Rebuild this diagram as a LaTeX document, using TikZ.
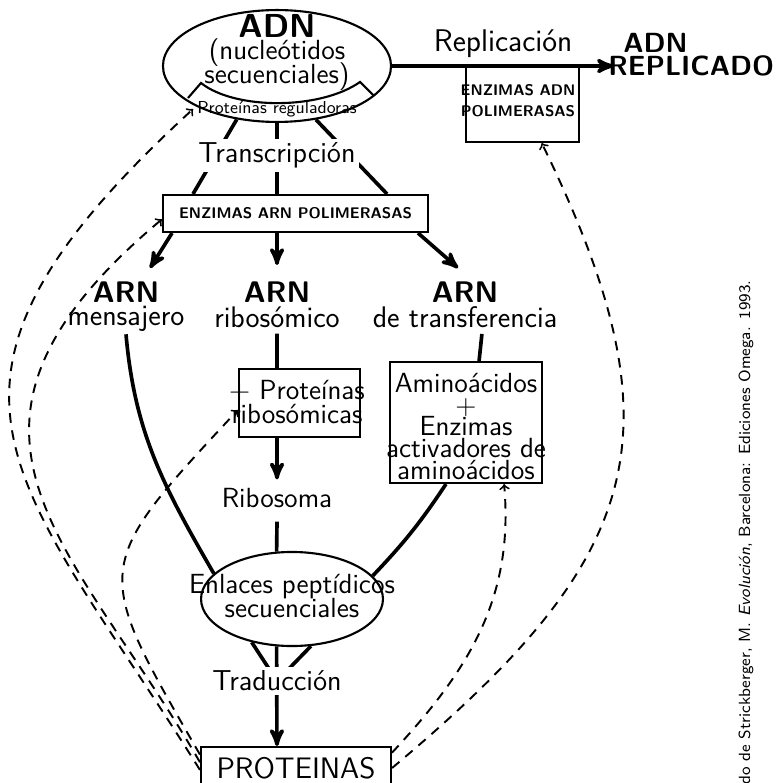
\documentclass[tikz,border=0pt]{standalone}
\usepackage{tikz}
\usetikzlibrary{positioning}
\usetikzlibrary{shapes,arrows}
\renewcommand{\familydefault}{\sfdefault}
\tikzstyle{block} = [rectangle, draw, line width=1.1pt, inner sep=0pt]
\tikzstyle{oval} = [ellipse, draw, line width=1.1pt, inner sep=0pt]
\tikzstyle{line} = [draw, line width=1.9pt]
\tikzstyle{arrow} = [draw, line width=1.9pt, -stealth']
\tikzstyle{feedback} = [draw, line width=1pt, dash pattern=on 5pt off 4pt, ->]
\tikzstyle{lbl} = [font=\Large, inner sep=1pt]
\tikzstyle{big} = [font=\fontsize{15.5}{18}\selectfont, inner sep=1pt]
\tikzstyle{bigb} = [font=\fontsize{15.5}{18}\selectfont\bfseries, inner sep=1pt]
\tikzstyle{tag} = [font=\fontsize{15}{18}\selectfont, fill=white, inner sep=2pt]
\tikzstyle{caps} = [font=\footnotesize\bfseries, inner sep=0pt, align=center]

\begin{document}
\begin{tikzpicture}[x=0.52pt, y=-0.52pt]
                \useasboundingbox (0,0) rectangle (782,783);
                \node[oval, minimum width=118.6pt, minimum height=58.2pt] (adn) at (277,66) {};
                \node[lbl, font=\LARGE\bfseries, anchor=base] (adn1) at (277,38) {ADN};
                \node[lbl, below=-2pt of adn1] (adn2) {(nucleótidos};
                \node[lbl, below=-4.5pt of adn2] (adn3) {secuenciales)};
                \draw[line width=1.1pt] (188,98) -- (201,83) .. controls (235,110) and (320,110) .. (360,82) -- (374,96);
                \node[font=\small, inner sep=2pt] (reg) at (277,109) {Proteínas reguladoras};
                \node[block, minimum width=58.8pt, minimum height=39pt] (adnpol) at (522.5,104.5) {};
                \node[caps] (adnpoltxt) at (518,100.7) {ENZIMAS ADN\\[1.9pt]POLIMERASAS};
                \node[big, font=\Large\bfseries, anchor=west, inner sep=0pt] (repl) at (608,66) {REPLICADO};
                \node[big, font=\Large\bfseries, anchor=base west, inner sep=0pt] (adnr) at (623,53) {ADN};
                \node[big, font=\fontsize{16.3}{19}\selectfont, anchor=base] (rep) at (503,52) {Replicación};
                \path[arrow, shorten >=-3pt] (adn.east) -- (repl.west);
                \node[block, minimum width=137.8pt, minimum height=19.2pt, font=\footnotesize\bfseries] (arnpol) at (295.5,213.5) {ENZIMAS ARN POLIMERASAS};
                \path[line] (adn.233) -- ([xshift=-53.3pt]arnpol.north);
                \path[line] (adn.south) -- ([xshift=-9.6pt]arnpol.north);
                \path[line] (adn.-54) -- ([xshift=47.6pt]arnpol.north);
                \node[tag] (trans) at (277,155.5) {Transcripción};
                \node[bigb, anchor=base] (arnm1) at (126,302) {ARN};
                \node[big, below=0pt of arnm1] (arnm) {mensajero};
                \node[bigb, anchor=base] (arnr1) at (277,302) {ARN};
                \node[big, below=0pt of arnr1] (arnr) {ribosómico};
                \node[bigb, anchor=base] (arnt1) at (465,302) {ARN};
                \node[big, below=0pt of arnt1] (arnt) {de transferencia};
                \path[arrow] ([xshift=-64.2pt]arnpol.south) -- ([xshift=12.5pt, yshift=5.7pt]arnm1.north);
                \path[arrow] ([xshift=-9.6pt]arnpol.south) -- ([yshift=7.3pt]arnr1.north);
                \path[arrow] ([xshift=63.7pt]arnpol.south) -- ([xshift=-3.6pt, yshift=5.7pt]arnt1.north);
                \node[block, minimum width=62.9pt, minimum height=35.4pt] (ribprot) at (299.5,403) {};
                \node[lbl, align=center] (ribprottxt) at (297,402) {$+$ Proteínas\\[-6pt]ribosómicas};
                \node[lbl] (ribo) at (277,498) {Ribosoma};
                \node[block, minimum width=79pt, minimum height=62.9pt] (amino) at (466,422.5) {};
                \node[lbl, align=center] (aminotxt) at (466,426.5) {Aminoácidos\\[-6.8pt]$+$\\[-6.8pt]Enzimas\\[-6.8pt]activadores de\\[-6.8pt]aminoácidos};
                \node[oval, minimum width=94.6pt, minimum height=48.9pt] (enl) at (292,599) {};
                \node[lbl, align=center] (enltxt) at (292,596.5) {Enlaces peptídicos\\[-5.5pt]secuenciales};
                \node[block, minimum width=98.8pt, minimum height=21.8pt, font=\fontsize{15.4}{18}\selectfont] (prot) at (296,768) {PROTEINAS};
                \coordinate (tradc) at (277,681);
                \path[line] ([yshift=-2pt]arnr.south) -- ([xshift=-11.7pt]ribprot.north);
                \path[arrow] ([xshift=-11.7pt]ribprot.south) -- ([yshift=3.4pt]ribo.north);
                \path[line] ([yshift=-6pt]ribo.south) -- (enl.108);
                \path[line] ([xshift=8.8pt, yshift=-2pt]arnt.south) -- ([xshift=6.8pt]amino.north);
                \path[line] (arnm.south) to[out=-85, in=120] (enl.162);
                \path[line] ([xshift=-10.4pt]amino.south) to[bend left=5] (enl.16);
                \path[line] (enl.-133) -- (tradc);
                \path[line] (enl.-68) -- (tradc);
                \path[arrow] (enl.-108) -- ([xshift=-9.9pt]prot.north);
                \node[tag] (trad) at (tradc) {Traducción};
                \path[feedback] ([yshift=-1pt]prot.west) to[out=122, in=-137.5, out looseness=1.35, in looseness=1.6] (reg.west);
                \path[feedback] ([yshift=3pt]prot.west) to[out=120, in=-140, out looseness=1.2, in looseness=1.55] ([yshift=-3pt]arnpol.west);
                \path[feedback] ([yshift=7pt]prot.west) to[out=120, in=-133, looseness=1.6] ([yshift=-3.6pt]ribprot.west);
                \path[feedback] (prot.east) to[out=40, in=-64, looseness=1.3] ([xshift=10pt]adnpol.south);
                \path[feedback] ([yshift=8pt]prot.east) to[out=47, in=-85] ([xshift=19.8pt]amino.south);
                \node[rotate=90, anchor=base west, font=\fontsize{8.4}{10}\selectfont, inner sep=0pt] (cite) at (750,785) {do de Strickberger, M. \textit{Evolución}, Barcelona: Ediciones Omega. 1993.};
\end{tikzpicture}
\end{document}
